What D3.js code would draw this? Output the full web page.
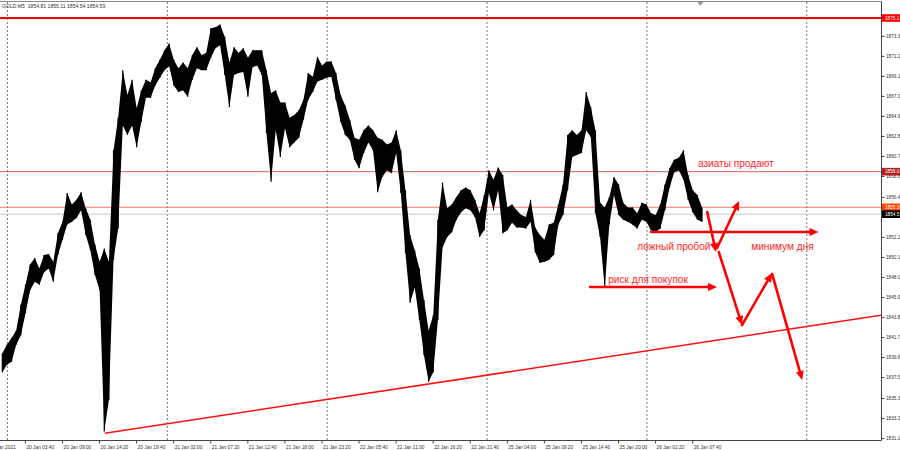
<!DOCTYPE html>
<html>
<head>
<meta charset="utf-8">
<script src="https://cdn.jsdelivr.net/npm/d3@7"></script>
<style>
  body { margin: 0; background: #fff; }
  svg { display: block; }
</style>
</head>
<body>
<svg id="chart" width="900" height="450"></svg>
<script>
// GOLD M5, 20-26 Jan 2021. Each entry = one group of 8 five-minute bars (high / low)
const barsPerGroup = 8;
const highs = [
  1840.0, 1840.9, 1841.6, 1842.4, 1845.1, 1847.2, 1849.3, 1850.0, 1848.9, 1850.3,
  1850.4, 1849.6, 1852.6, 1853.8, 1856.8, 1855.6, 1856.1, 1856.9, 1855.2, 1854.0,
  1851.4, 1849.6, 1851.0, 1849.6, 1861.3, 1864.7, 1869.7, 1867.1, 1868.7, 1865.7,
  1867.6, 1868.7, 1868.4, 1869.9, 1870.8, 1871.8, 1872.5, 1870.8, 1869.9, 1870.5,
  1869.9, 1871.3, 1872.1, 1871.3, 1871.5, 1874.1, 1874.2, 1874.5, 1873.2, 1870.5,
  1872.1, 1871.5, 1872.0, 1871.0, 1871.8, 1871.8, 1871.8, 1869.7, 1867.3, 1867.6,
  1866.3, 1866.3, 1864.7, 1865.0, 1865.5, 1866.6, 1869.4, 1869.0, 1871.1, 1870.2,
  1870.6, 1870.6, 1869.4, 1867.1, 1866.0, 1864.5, 1862.6, 1862.4, 1863.4, 1863.9,
  1863.4, 1862.6, 1862.4, 1861.9, 1862.1, 1863.4, 1861.3, 1857.1, 1852.4, 1850.8,
  1848.9, 1845.6, 1842.4, 1844.0, 1854.0, 1857.9, 1855.2, 1855.6, 1856.4, 1857.1,
  1857.4, 1857.1, 1856.1, 1854.7, 1856.6, 1859.2, 1858.2, 1859.5, 1858.7, 1855.3,
  1855.6, 1855.0, 1854.5, 1854.3, 1856.1, 1853.2, 1852.4, 1851.9, 1853.5, 1853.7,
  1855.6, 1857.7, 1862.9, 1863.4, 1862.9, 1863.4, 1867.4, 1865.8, 1863.4, 1855.8,
  1855.3, 1856.4, 1858.5, 1857.7, 1855.8, 1855.3, 1855.3, 1854.7, 1855.8, 1855.6,
  1854.7, 1854.5, 1855.6, 1857.7, 1859.4, 1860.3, 1860.5, 1861.3, 1858.7, 1857.1,
  1856.6, 1855.3
];
const lows = [
  1838.0, 1838.8, 1839.1, 1840.9, 1841.9, 1844.2, 1846.6, 1847.5, 1847.2, 1848.5,
  1848.9, 1847.5, 1850.3, 1851.9, 1853.5, 1853.8, 1854.2, 1855.0, 1852.4, 1850.8,
  1848.2, 1846.6, 1831.8, 1835.1, 1849.8, 1853.1, 1863.9, 1862.9, 1863.9, 1861.6,
  1864.3, 1866.8, 1866.8, 1868.1, 1868.9, 1869.7, 1870.1, 1868.1, 1867.4, 1867.6,
  1866.9, 1868.7, 1869.9, 1869.7, 1869.7, 1871.0, 1872.0, 1872.3, 1869.2, 1865.8,
  1869.2, 1869.4, 1869.5, 1866.9, 1870.0, 1870.2, 1869.2, 1863.1, 1858.0, 1863.4,
  1860.6, 1863.6, 1861.6, 1862.1, 1862.6, 1864.5, 1866.6, 1867.4, 1868.5, 1868.7,
  1868.9, 1869.0, 1866.6, 1864.3, 1862.9, 1862.4, 1860.3, 1859.4, 1861.0, 1862.1,
  1861.3, 1856.9, 1858.5, 1859.2, 1858.9, 1861.0, 1856.8, 1850.5, 1845.3, 1846.9,
  1843.5, 1839.8, 1837.0, 1838.0, 1843.5, 1851.1, 1852.2, 1852.7, 1854.0, 1854.8,
  1855.2, 1855.0, 1854.3, 1852.2, 1852.9, 1856.8, 1855.0, 1857.1, 1852.6, 1852.9,
  1853.7, 1853.2, 1853.2, 1853.1, 1853.8, 1850.6, 1849.5, 1849.6, 1849.8, 1850.3,
  1853.5, 1854.5, 1857.1, 1860.6, 1860.8, 1861.0, 1863.4, 1862.7, 1854.7, 1852.2,
  1846.9, 1853.5, 1856.6, 1854.5, 1854.0, 1853.8, 1853.5, 1853.1, 1854.0, 1853.8,
  1852.9, 1852.7, 1853.1, 1855.0, 1857.4, 1859.0, 1859.2, 1858.2, 1856.1, 1854.8,
  1854.0, 1853.8
];

const header = "GOLD.M5  1854.81 1855.11 1854.54 1854.59";
const lastClose = 1854.59;

// 1854.3 sits under the last-price box and is not drawn
const priceTicks = [1831.1, 1833.2, 1835.3, 1837.5, 1839.6, 1841.7, 1843.8, 1845.9, 1848.0, 1850.1,
  1852.2, 1856.4, 1858.6, 1860.7, 1862.8, 1864.9, 1867.0, 1869.1, 1871.2, 1873.3];

const timeLabels = ["20 Jan 2021", "20 Jan 03:40", "20 Jan 09:00", "20 Jan 14:20", "20 Jan 19:40",
  "21 Jan 02:00", "21 Jan 07:20", "21 Jan 12:40", "21 Jan 18:00", "21 Jan 23:20", "22 Jan 05:40",
  "22 Jan 11:00", "22 Jan 16:20", "22 Jan 21:40", "25 Jan 04:00", "25 Jan 09:20", "25 Jan 14:40",
  "25 Jan 20:00", "26 Jan 02:20", "26 Jan 07:40"];
const timeLabelBars = [-21, 43, 107, 171, 235, 299, 363, 427, 491, 555, 619, 683, 747, 811, 875,
  939, 1003, 1067, 1131, 1195];
const dayStartBars = [12, 288, 564, 840, 1116, 1392];

// horizontal levels drawn by the trader
const levelPrices = [1875.17, 1859.05, 1855.31];
const levelColors = ["#ff0000", "#c83c3c", "#ff5a4a"];
const levelBoxColors = ["#ff0000", "#b22222", "#ff4500"];

// support trend line (bar, price)
const trendFrom = [181, 1831.6];
const trendTo = [1521, 1844.0];

// forecast arrows [bar, price] -> [bar, price]
const arrows = [
  { from: [1124, 1852.72], to: [1413, 1852.72] },
  { from: [1019, 1846.95], to: [1238, 1846.95] },
  { from: [1221, 1854.82], to: [1236, 1850.62] },
  { from: [1238, 1851.04], to: [1276, 1855.97] },
  { from: [1241, 1850.62], to: [1281, 1842.96] },
  { from: [1281, 1842.96], to: [1333, 1848.42] },
  { from: [1333, 1848.32], to: [1385, 1837.19] }
];

const notes = [
  { text: "азиаты продают", bar: 1205, price: 1859.96 },
  { text: "ложный пробой", bar: 1100, price: 1851.25 },
  { text: "минимум дня", bar: 1297, price: 1851.25 },
  { text: "риск для покупок", bar: 1050, price: 1847.69 }
];

const svg = d3.select("#chart");
const plotRight = 881;
const plotBottom = 440;
const font = "Liberation Sans, Arial, sans-serif";
const fmt1 = (p) => (Math.floor(p * 10 + 1e-6) / 10).toFixed(1);

const x = d3.scaleLinear().domain([0, 1521]).range([0, plotRight]);
const y = d3.scaleLinear().domain([1830.9, 1876.85]).range([plotBottom, 2]);

svg.append("rect").attr("width", 900).attr("height", 450).attr("fill", "#fff");

svg.append("defs").append("clipPath").attr("id", "plotClip")
  .append("rect").attr("x", 0).attr("y", 2).attr("width", plotRight).attr("height", plotBottom - 2);

const plot = svg.append("g").attr("clip-path", "url(#plotClip)");

// vertical dotted day separators
plot.selectAll("line.grid")
  .data(dayStartBars)
  .enter()
  .append("line")
  .attr("class", "grid")
  .attr("x1", (d) => x(d) + 0.5)
  .attr("x2", (d) => x(d) + 0.5)
  .attr("y1", 2)
  .attr("y2", plotBottom)
  .attr("stroke", "#555")
  .attr("stroke-width", 0.8)
  .attr("stroke-dasharray", "2,2");

// level lines
plot.append("line")
  .attr("x1", 0).attr("x2", plotRight)
  .attr("y1", y(lastClose)).attr("y2", y(lastClose))
  .attr("stroke", "#c8c8c8").attr("stroke-width", 1);

plot.selectAll("line.level")
  .data(levelPrices)
  .enter()
  .append("line")
  .attr("class", "level")
  .attr("x1", 0).attr("x2", plotRight)
  .attr("y1", (d) => y(d)).attr("y2", (d) => y(d))
  .attr("stroke", (d, i) => levelColors[i])
  .attr("stroke-width", (d, i) => (i === 0 ? 1.8 : 1))
  .attr("stroke-opacity", (d, i) => (i === 0 ? 1 : 0.8));

// price bars
const groups = highs.map((h, i) => ({ bar: i * barsPerGroup + barsPerGroup / 2, hi: h, lo: lows[i] }));

const band = d3.area()
  .x((d) => x(d.bar))
  .y0((d) => y(d.lo))
  .y1((d) => y(d.hi));

plot.append("path")
  .datum(groups)
  .attr("d", band)
  .attr("fill", "#000");

plot.selectAll("line.bar")
  .data(groups)
  .enter()
  .append("line")
  .attr("class", "bar")
  .attr("x1", (d) => x(d.bar))
  .attr("x2", (d) => x(d.bar))
  .attr("y1", (d) => y(d.hi))
  .attr("y2", (d) => y(d.lo))
  .attr("stroke", "#000")
  .attr("stroke-width", 1.2);

// trend line
plot.append("line")
  .attr("x1", x(trendFrom[0])).attr("y1", y(trendFrom[1]))
  .attr("x2", x(trendTo[0])).attr("y2", y(trendTo[1]))
  .attr("stroke", "#ff1010")
  .attr("stroke-width", 1.5);

// arrows
const red = "#ff0000";
arrows.forEach((a) => {
  const x1 = x(a.from[0]), y1 = y(a.from[1]);
  const x2 = x(a.to[0]), y2 = y(a.to[1]);
  const ang = Math.atan2(y2 - y1, x2 - x1);
  const len = 9, half = 4;
  const bx = x2 - len * Math.cos(ang), by = y2 - len * Math.sin(ang);
  plot.append("line")
    .attr("x1", x1).attr("y1", y1)
    .attr("x2", bx).attr("y2", by)
    .attr("stroke", red)
    .attr("stroke-width", 2.6)
    .attr("stroke-linecap", "round");
  const px = -Math.sin(ang), py = Math.cos(ang);
  plot.append("path")
    .attr("d", `M${x2},${y2}L${bx + px * half},${by + py * half}L${bx - px * half},${by - py * half}Z`)
    .attr("fill", red);
});

// annotations
plot.selectAll("text.note")
  .data(notes)
  .enter()
  .append("text")
  .attr("class", "note")
  .attr("x", (d) => x(d.bar))
  .attr("y", (d) => y(d.price))
  .attr("dy", "0.35em")
  .attr("fill", "#ff2626")
  .attr("font-family", font)
  .attr("font-size", 10.1)
  .text((d) => d.text);

// chart-shift marker
svg.append("path")
  .attr("d", `M${x(1209) - 3},2L${x(1209) + 3},2L${x(1209)},6Z`)
  .attr("fill", "#999");

// frame
svg.append("line").attr("x1", 0).attr("x2", plotRight + 0.5).attr("y1", 1.5).attr("y2", 1.5)
  .attr("stroke", "#888").attr("stroke-width", 1);
svg.append("line").attr("x1", plotRight + 0.5).attr("x2", plotRight + 0.5).attr("y1", 1.5).attr("y2", plotBottom + 0.5)
  .attr("stroke", "#444").attr("stroke-width", 1);
svg.append("line").attr("x1", 0).attr("x2", plotRight + 0.5).attr("y1", plotBottom + 0.5).attr("y2", plotBottom + 0.5)
  .attr("stroke", "#444").attr("stroke-width", 1);

// price axis
const yAxisG = svg.append("g")
  .attr("transform", `translate(${plotRight + 0.5},0)`)
  .call(d3.axisRight(y).tickValues(priceTicks).tickFormat(fmt1).tickSize(3).tickPadding(1.5));
yAxisG.select(".domain").remove();
yAxisG.selectAll("line").attr("stroke", "#444");
yAxisG.selectAll("text")
  .attr("fill", "#333")
  .attr("font-family", font)
  .attr("font-size", 4.7);

// time axis
const xAxisG = svg.append("g")
  .attr("transform", `translate(0,${plotBottom + 0.5})`)
  .call(d3.axisBottom(x).tickValues(timeLabelBars).tickFormat((d, i) => timeLabels[i]).tickSize(3).tickPadding(2));
xAxisG.select(".domain").remove();
xAxisG.selectAll("line").attr("stroke", "#444");
xAxisG.selectAll("text")
  .attr("text-anchor", "start")
  .attr("x", 1)
  .attr("fill", "#333")
  .attr("font-family", font)
  .attr("font-size", 4.8);

// price boxes on the axis
const boxes = levelPrices.map((p, i) => ({ price: p, color: levelBoxColors[i] }))
  .concat([{ price: lastClose, color: "#000" }]);
const boxG = svg.selectAll("g.box")
  .data(boxes)
  .enter()
  .append("g")
  .attr("class", "box")
  .attr("transform", (d) => `translate(${plotRight + 1},${y(d.price)})`);
boxG.append("rect")
  .attr("x", 0).attr("y", -3.8).attr("width", 19).attr("height", 7.6)
  .attr("fill", (d) => d.color);
boxG.append("text")
  .attr("x", 3).attr("dy", "0.35em")
  .attr("fill", "#fff")
  .attr("font-family", font)
  .attr("font-size", 4.7)
  .text((d) => fmt1(d.price));

// header
svg.append("text")
  .attr("x", 2).attr("y", 6).attr("dy", "0.35em")
  .attr("fill", "#333")
  .attr("font-family", font)
  .attr("font-size", 5.1)
  .attr("xml:space", "preserve")
  .text(header);
</script>
</body>
</html>
